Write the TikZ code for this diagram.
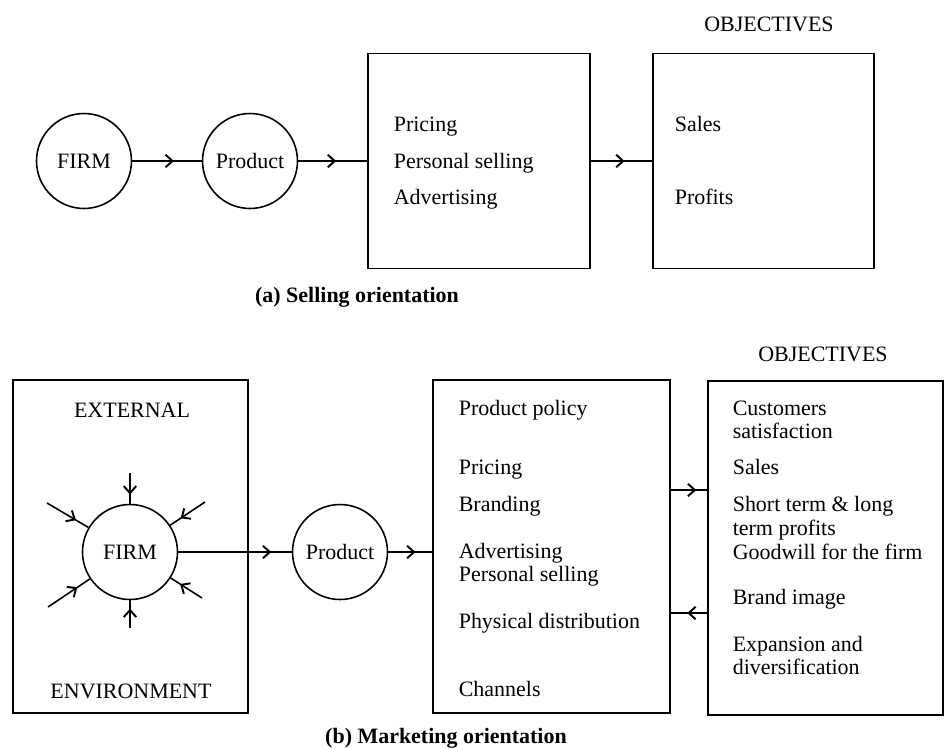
\documentclass[tikz,border=0pt]{standalone}
\usepackage{fontspec}
\setmainfont{Liberation Serif}
\usetikzlibrary{arrows.meta,decorations.markings}
\begin{document}
\begin{tikzpicture}[x=0.02cm,y=-0.02cm,
  line width=0.9pt,
  every node/.style={font=\fontsize{12.5}{15}\selectfont},
  ring/.style={draw, circle, minimum size=1.9cm, inner sep=0pt},
  panel/.style={draw, rectangle, inner sep=0pt},
  item/.style={anchor=base west, inner sep=0pt},
  heading/.style={inner sep=0pt},
  caption/.style={inner sep=0pt, font=\fontsize{12.5}{15}\selectfont\bfseries},
  flow/.style={postaction={decorate}, decoration={markings,
    mark=at position #1 with {\arrow{Straight Barb[length=1.4mm,width=2.5mm,line width=1.1pt]}}}},
  flow/.default=0.6]
\useasboundingbox (0,0) rectangle (945,748);

% ---------- (a) selling orientation ----------
\node[heading] (objA) at (769,24) {OBJECTIVES};
\node[ring] (firmA) at (84,161) {FIRM};
\node[ring] (prodA) at (250,161) {Product};
\node[panel, minimum width=4.44cm, minimum height=4.3cm] (mixA) at (479,161) {};
\node[panel, minimum width=4.42cm, minimum height=4.3cm] (goalA) at (763.5,161) {};

\node[item] (a1) at (393,131) {Pricing};
\node[item] (a2) at (393,168) {Personal selling};
\node[item] (a3) at (393,204) {Advertising};
\node[item] (a4) at (674,131) {Sales};
\node[item] (a5) at (674,204) {Profits};

\draw[flow=0.6] (firmA) -- (prodA);
\draw[flow=0.55] (prodA) -- (mixA.west);
\draw[flow=0.55] (mixA.east) -- (goalA.west);

\node[caption] (capA) at (357,297) {(a) Selling orientation};

% ---------- (b) marketing orientation ----------
\node[heading] (objB) at (823,354) {OBJECTIVES};
\node[panel, minimum width=4.7cm, minimum height=6.66cm] (env) at (130.5,546.5) {};
\node[heading] (ext) at (132,410) {EXTERNAL};
\node[heading] (envt) at (131,691) {ENVIRONMENT};
\node[ring] (firmB) at (130,552) {FIRM};
\node[ring] (prodB) at (340,552) {Product};
\node[panel, minimum width=4.74cm, minimum height=6.66cm] (mixB) at (551.5,546.5) {};
\node[panel, minimum width=4.7cm, minimum height=6.68cm] (goalB) at (825.5,548) {};

% forces acting on the firm from its environment
\coordinate (f1) at (130,473);
\coordinate (f2) at (205,502);
\coordinate (f3) at (202,598);
\coordinate (f4) at (130,628);
\coordinate (f5) at (48,607);
\coordinate (f6) at (47,503);
\foreach \f in {f1,f2,f3,f4,f5,f6}
  \draw[flow=0.7] (\f) -- (firmB);

\draw[flow=0.82] (firmB) -- (prodB);
\draw[flow=0.62] (prodB) -- (prodB -| mixB.west);

\node[item] (b1) at (458,415) {Product policy};
\node[item] (b2) at (458,474) {Pricing};
\node[item] (b3) at (458,511) {Branding};
\node[item] (b4) at (458,558) {Advertising};
\node[item] (b5) at (458,581) {Personal selling};
\node[item] (b6) at (458,628) {Physical distribution};
\node[item] (b7) at (458,696) {Channels};

\node[item] (c1) at (732,415) {Customers};
\node[item] (c2) at (732,438) {satisfaction};
\node[item] (c3) at (732,474) {Sales};
\node[item] (c4) at (732,511) {Short term \& long};
\node[item] (c5) at (732,535) {term profits};
\node[item] (c6) at (732,559) {Goodwill for the firm};
\node[item] (c7) at (732,604) {Brand image};
\node[item] (c8) at (732,651) {Expansion and};
\node[item] (c9) at (732,674) {diversification};

% feedback between the marketing mix and the objectives
\coordinate (fwd) at (0,490);
\coordinate (back) at (0,613);
\draw[flow=0.7] (mixB.east |- fwd) -- (goalB.west |- fwd);
\draw[flow=0.55] (goalB.west |- back) -- (mixB.east |- back);

\node[caption] (capB) at (446,738) {(b) Marketing orientation};
\end{tikzpicture}
\end{document}
